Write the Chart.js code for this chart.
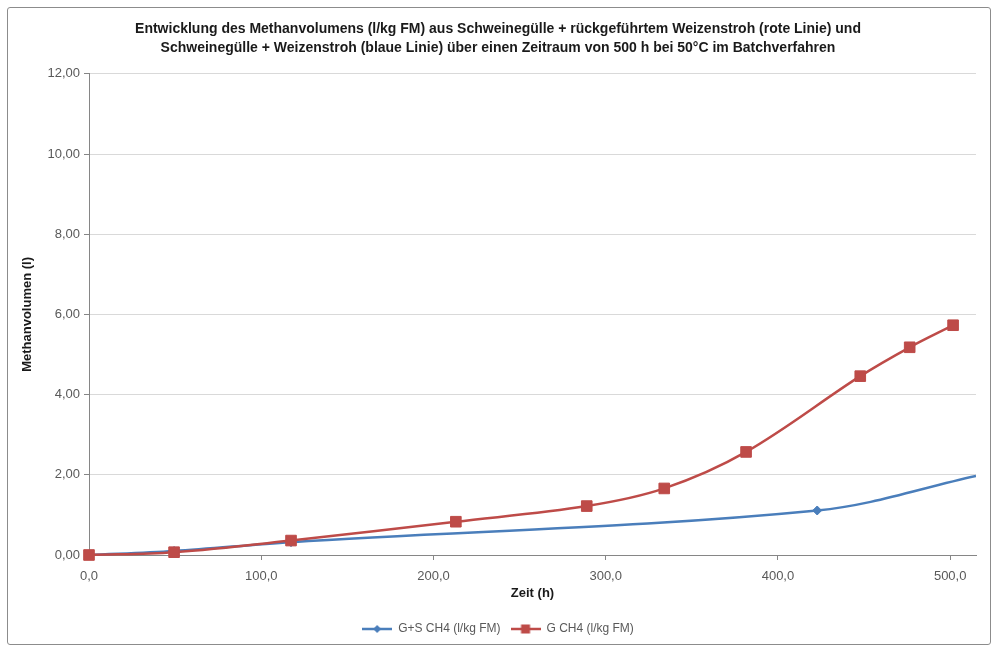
<!DOCTYPE html>
<html>
<head>
<meta charset="utf-8">
<script src="https://cdn.jsdelivr.net/npm/chart.js@4.4.1/dist/chart.umd.min.js"></script>
<style>
  html, body { margin: 0; padding: 0; background: #fff; }
  #wrap { position: relative; width: 998px; height: 650px; }
  #frame { position: absolute; left: 7px; top: 7px; width: 982px; height: 636px; border: 1px solid #8c8c8c; border-radius: 3px; pointer-events: none; }
  canvas { position: absolute; left: 0; top: 0; }
</style>
</head>
<body>
<div id="wrap">
  <canvas id="c" width="998" height="650"></canvas>
  <div id="frame"></div>
</div>
<script>
// ---- data ----
const titleLines = [
  'Entwicklung des Methanvolumens (l/kg FM) aus Schweinegülle + rückgeführtem Weizenstroh (rote Linie) und',
  'Schweinegülle + Weizenstroh (blaue Linie) über einen Zeitraum von 500 h bei 50°C im Batchverfahren'
];
const seriesNames = ['G+S CH4 (l/kg FM)', 'G CH4 (l/kg FM)'];
const blueX = [0, 49.4, 117.3, 422.8, 515];
const blueY = [0, 0.10, 0.32, 1.11, 1.97];
const redX = [0, 49.4, 117.3, 213.0, 289.0, 334.0, 381.5, 447.8, 476.5, 501.7];
const redY = [0, 0.07, 0.36, 0.83, 1.22, 1.66, 2.57, 4.46, 5.18, 5.73];
const xTickValues = [0, 100, 200, 300, 400, 500];
const xAxisTitle = 'Zeit (h)';
const yAxisTitle = 'Methanvolumen (l)';

const BLUE = '#4A7EBB';
const RED = '#BE4B48';
const FONT = "'Liberation Sans Narrow', 'Liberation Sans', sans-serif";

function toPts(xs, ys) { return xs.map((x, i) => ({ x: x, y: ys[i] })); }

function legendIcon(color, style) {
  const cv = document.createElement('canvas');
  cv.width = 30; cv.height = 12;
  const g = cv.getContext('2d');
  g.strokeStyle = color; g.lineWidth = 2.5;
  g.beginPath(); g.moveTo(0, 6); g.lineTo(30, 6); g.stroke();
  g.fillStyle = color;
  if (style === 'rect') {
    g.fillRect(10.5, 1.5, 9, 9);
  } else {
    g.beginPath(); g.moveTo(15, 2); g.lineTo(19, 6); g.lineTo(15, 10); g.lineTo(11, 6); g.closePath(); g.fill();
  }
  return cv;
}
const icons = [legendIcon(BLUE, 'diamond'), legendIcon(RED, 'rect')];

const blueRadius = blueX.map((x, i) => (i === blueX.length - 1 ? 0 : 4.5));

new Chart(document.getElementById('c'), {
  type: 'line',
  data: {
    datasets: [
      {
        label: seriesNames[0],
        data: toPts(blueX, blueY),
        order: 1, clip: { left: 10, top: 10, right: 0, bottom: 10 },
        borderColor: BLUE, backgroundColor: BLUE,
        borderWidth: 2.5, tension: 0.35,
        pointStyle: 'rectRot', pointRadius: blueRadius, pointBorderWidth: 1,
        pointBackgroundColor: BLUE, pointBorderColor: BLUE, fill: false
      },
      {
        label: seriesNames[1],
        data: toPts(redX, redY),
        order: 0, clip: false,
        borderColor: RED, backgroundColor: RED,
        borderWidth: 2.5, tension: 0.35,
        pointStyle: 'rect', pointRadius: 7.5, pointBorderWidth: 1,
        pointBackgroundColor: RED, pointBorderColor: RED, fill: false
      }
    ]
  },
  options: {
    responsive: false,
    animation: false,
    layout: { padding: { left: 20, right: 22, top: 12, bottom: 5 } },
    plugins: {
      tooltip: { enabled: false },
      title: {
        display: true, text: titleLines, color: '#1a1a1a',
        font: { family: FONT, size: 14, weight: 'bold', lineHeight: 1.35 },
        padding: { top: 8, bottom: 16 }
      },
      legend: {
        position: 'bottom',
        labels: {
          usePointStyle: true, pointStyleWidth: 30,
          color: '#595959', font: { family: FONT, size: 12 },
          padding: 10,
          generateLabels: (chart) => chart.data.datasets.map((ds, i) => ({
            text: ds.label, pointStyle: icons[i], fillStyle: ds.borderColor,
            strokeStyle: ds.borderColor, lineWidth: 0, hidden: false, datasetIndex: i, fontColor: '#595959'
          }))
        }
      }
    },
    scales: {
      x: {
        type: 'linear', min: 0, max: 515,
        afterBuildTicks: (s) => { s.ticks = xTickValues.map(v => ({ value: v })); },
        afterFit: (s) => { s.height = 58; },
        ticks: {
          color: '#595959', font: { family: FONT, size: 13 }, padding: 9,
          maxRotation: 0,
          callback: (v) => Number(v).toFixed(1).replace('.', ',')
        },
        grid: { drawOnChartArea: false, drawTicks: true, tickLength: 5, color: '#868686' },
        border: { display: true, color: '#868686', width: 1 },
        title: { display: true, text: xAxisTitle, color: '#1a1a1a', font: { family: FONT, size: 13, weight: 'bold' }, padding: { top: 0, bottom: 12 } }
      },
      y: {
        type: 'linear', min: 0, max: 12,
        ticks: {
          stepSize: 2, color: '#595959', font: { family: FONT, size: 13 }, padding: 4,
          callback: (v) => Number(v).toFixed(2).replace('.', ',')
        },
        grid: { color: '#d9d9d9', drawTicks: true, tickLength: 5, tickColor: '#868686' },
        border: { display: true, color: '#868686', width: 1 },
        title: { display: true, text: yAxisTitle, color: '#1a1a1a', font: { family: FONT, size: 13, weight: 'bold' }, padding: { top: 0, bottom: 10 } },
        afterFit: (s) => { s.width = 69; }
      }
    }
  }
});
</script>
</body>
</html>
